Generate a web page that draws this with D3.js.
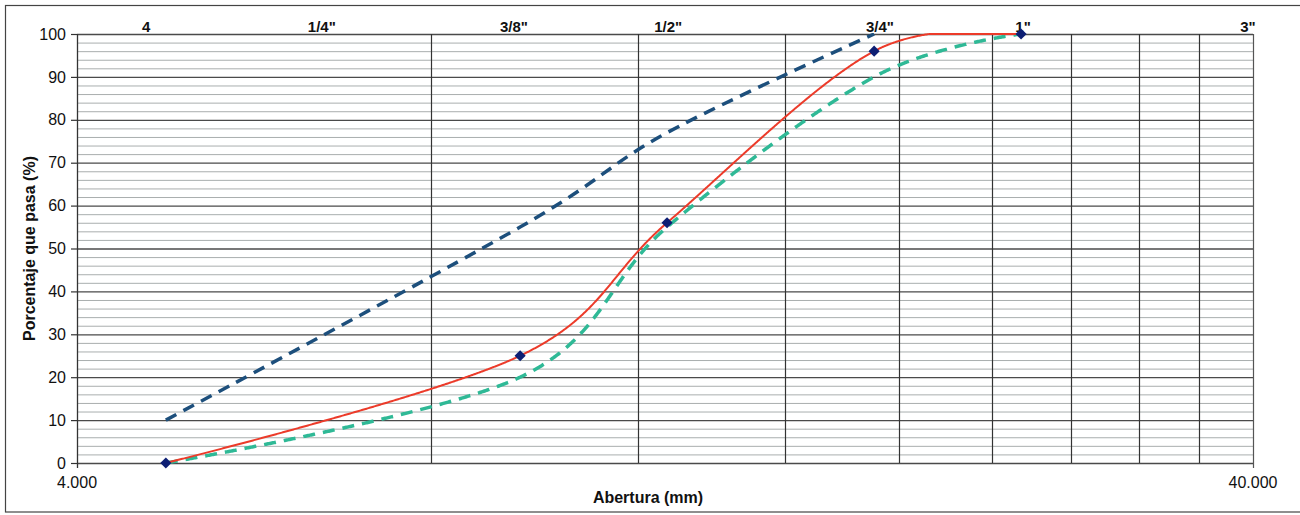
<!DOCTYPE html>
<html>
<head>
<meta charset="utf-8">
<script src="https://cdn.jsdelivr.net/npm/d3@7"></script>
<style>
  body { margin: 0; background: #fff; }
  text { font-family: Arial, "Liberation Sans", sans-serif; fill: #111; }
</style>
</head>
<body>
<svg></svg>
<script>
// curva granulometrica, eje x logaritmico (mm)

// tamices con resultado del ensayo (mm)
var tamices = [4.76, 9.525, 12.7, 19.05, 25.4];
var pasa = [0, 25, 56, 96, 100];

// limites de la especificacion
var limSupTamiz = [4.76, 9.525, 12.7, 19.05];
var limSup = [10, 55, 77, 100];
var limInfTamiz = [4.76, 9.525, 12.7, 19.05, 25.4];
var limInf = [0, 20, 55, 90, 100];

// etiquetas de tamices arriba
var etiquetas = ['4', '1/4"', '3/8"', '1/2"', '3/4"', '1"', '3"'];
var etiquetasPos = [4.58, 6.46, 9.41, 12.73, 19.27, 25.5, 39.6];

var gridV = [8, 12, 16, 20, 24, 28, 32, 36];
var yTicks = d3.range(0, 101, 10);
var yMinor = d3.range(0, 101, 2);

var W = 1300, H = 515;
var margin = { top: 34, right: 47, bottom: 52, left: 77 };
var width = W - margin.left - margin.right,
    height = H - margin.top - margin.bottom;

var root = d3.select('svg')
    .attr('width', W)
    .attr('height', H);

// marco exterior
root.append('rect')
    .attr('x', 5.5).attr('y', 5.5)
    .attr('width', W).attr('height', H - 3 - 5.5)
    .attr('fill', 'none')
    .attr('stroke', '#444')
    .attr('stroke-width', 1.2);

var svg = root.append('g')
    .attr('transform', 'translate(' + margin.left + ',' + margin.top + ')');

var x = d3.scaleLog().domain([4, 40]).range([0, width]);
var y = d3.scaleLinear().domain([0, 100]).range([height, 0]);

svg.append('clipPath').attr('id', 'clip')
  .append('rect')
    .attr('x', 0).attr('y', -1)
    .attr('width', width).attr('height', height + 2);

// rejilla menor
svg.append('g')
  .selectAll('line')
  .data(yMinor.filter(function(d) { return d % 10 !== 0; }))
  .enter().append('line')
    .attr('x1', 0).attr('x2', width)
    .attr('y1', function(d) { return y(d) + 0.5; })
    .attr('y2', function(d) { return y(d) + 0.5; })
    .attr('stroke', '#a9aeae')
    .attr('stroke-width', 1);

// rejilla mayor
svg.append('g')
  .selectAll('line')
  .data(yTicks)
  .enter().append('line')
    .attr('x1', 0).attr('x2', width)
    .attr('y1', function(d) { return y(d) + 0.5; })
    .attr('y2', function(d) { return y(d) + 0.5; })
    .attr('stroke', '#4a4a4a')
    .attr('stroke-width', 1.3);

svg.append('g')
  .selectAll('line')
  .data(gridV)
  .enter().append('line')
    .attr('x1', function(d) { return Math.round(x(d)) + 0.5; })
    .attr('x2', function(d) { return Math.round(x(d)) + 0.5; })
    .attr('y1', 0).attr('y2', height)
    .attr('stroke', '#333')
    .attr('stroke-width', 1.2);

// bordes del area
svg.append('line')
    .attr('x1', 0.5).attr('x2', 0.5).attr('y1', 0).attr('y2', height + 5)
    .attr('stroke', '#333').attr('stroke-width', 1.3);
svg.append('line')
    .attr('x1', width + 0.5).attr('x2', width + 0.5).attr('y1', 0).attr('y2', height + 5)
    .attr('stroke', '#555').attr('stroke-width', 1.2);

// eje y
var yAxis = d3.axisLeft(y).tickValues(yTicks).tickSize(6).tickPadding(5);
var gy = svg.append('g').call(yAxis);
gy.select('.domain').remove();
gy.selectAll('line').attr('stroke', '#333').attr('stroke-width', 1.2);
gy.selectAll('text')
    .style('font-size', '16px')
    .attr('fill', '#111');

// etiquetas extremas del eje x
svg.append('g')
  .selectAll('text')
  .data([4, 40])
  .enter().append('text')
    .attr('x', function(d) { return x(d); })
    .attr('y', height + 25)
    .attr('text-anchor', 'middle')
    .style('font-size', '16px')
    .text(function(d) { return d3.format(',.3f')(d).replace(',', '.'); });

// etiquetas de tamices
svg.append('g')
  .selectAll('text')
  .data(etiquetas)
  .enter().append('text')
    .attr('x', function(d, i) { return x(etiquetasPos[i]); })
    .attr('y', -2)
    .attr('text-anchor', 'middle')
    .style('font-size', '15px')
    .style('font-weight', 'bold')
    .text(function(d) { return d; });

// titulos
svg.append('text')
    .attr('x', width / 2 - 17)
    .attr('y', height + 40)
    .attr('text-anchor', 'middle')
    .style('font-size', '16px')
    .style('font-weight', 'bold')
    .text('Abertura (mm)');

svg.append('text')
    .attr('transform', 'translate(-42,' + (height / 2) + ') rotate(-90)')
    .attr('text-anchor', 'middle')
    .style('font-size', '16px')
    .style('font-weight', 'bold')
    .text('Porcentaje que pasa (%)');

// curvas
var line = d3.line()
    .x(function(d) { return x(d[0]); })
    .y(function(d) { return y(d[1]); })
    .curve(d3.curveCardinal.tension(0));

// la curva suavizada se recorta en 100 % como en la hoja de calculo
function recortada(path) {
  var node = path.node(), len = node.getTotalLength(), pts = [];
  for (var s = 0; s <= len; s += 1) {
    var p = node.getPointAtLength(s);
    pts.push([p.x, Math.max(y(100), Math.min(y(0), p.y))]);
  }
  var p = node.getPointAtLength(len);
  pts.push([p.x, Math.max(y(100), p.y)]);
  path.attr('d', d3.line()(pts));
}

var curvas = svg.append('g').attr('clip-path', 'url(#clip)');

curvas.append('path')
    .datum(limSupTamiz.map(function(t, i) { return [t, limSup[i]]; }))
    .attr('d', line)
    .attr('fill', 'none')
    .attr('stroke', '#1d4f7c')
    .attr('stroke-width', 3.5)
    .attr('stroke-dasharray', '12,8');

var inf = curvas.append('path')
    .datum(limInfTamiz.map(function(t, i) { return [t, limInf[i]]; }))
    .attr('d', line)
    .attr('fill', 'none')
    .attr('stroke', '#2fb996')
    .attr('stroke-width', 3.5)
    .attr('stroke-dasharray', '12,8');
recortada(inf);

var real = curvas.append('path')
    .datum(tamices.map(function(t, i) { return [t, pasa[i]]; }))
    .attr('d', line)
    .attr('fill', 'none')
    .attr('stroke', '#ec3b2a')
    .attr('stroke-width', 2);
recortada(real);

svg.append('g')
  .selectAll('path')
  .data(tamices)
  .enter().append('path')
    .attr('d', d3.symbol(d3.symbolSquare, 62))
    .attr('transform', function(d, i) { return 'translate(' + x(d) + ',' + y(pasa[i]) + ') rotate(45)'; })
    .attr('fill', '#0d1f74');
</script>
</body>
</html>
